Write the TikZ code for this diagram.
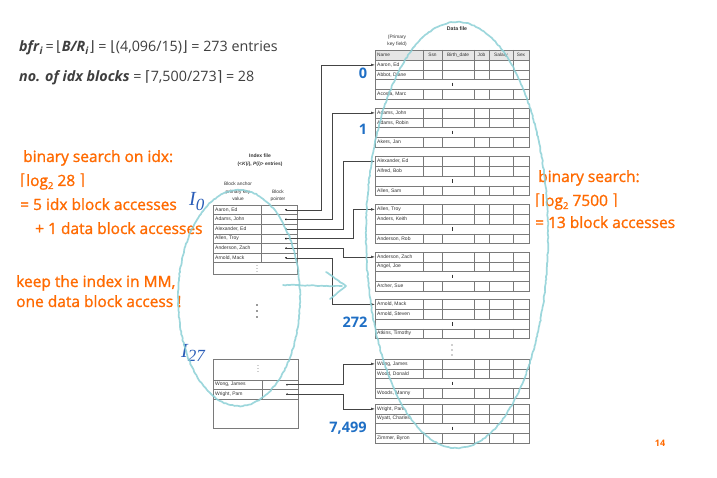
\documentclass[tikz,border=0pt]{standalone}
\usepackage{fontspec}
\setmainfont{Open Sans}
\newfontfamily\tabf{Liberation Sans}
\newfontfamily\symf{DejaVu Sans}
\newfontfamily\orf[FakeBold=1.2]{Open Sans}
\newfontfamily\serf{Liberation Serif}
\usetikzlibrary{arrows.meta,decorations.pathmorphing}
\definecolor{orng}{HTML}{FF6A00}
\definecolor{blu}{HTML}{1F6FC5}
\definecolor{iblu}{HTML}{2A5DB8}
\definecolor{txtg}{HTML}{3F3F3F}
\definecolor{cyanl}{HTML}{8DD0D6}
\definecolor{tline}{HTML}{7A7A7A}
\definecolor{hdr}{HTML}{E6E6E6}
\definecolor{txtd}{HTML}{333333}
\definecolor{cline}{HTML}{444444}
\tikzset{
  tab/.style={draw=tline, line width=0.45pt},
  dtxt/.style={font=\tabf\fontsize{5}{6}\selectfont, text=txtd, anchor=west, inner sep=0pt},
  htxt/.style={font=\tabf\fontsize{4.8}{6}\selectfont, text=txtd, inner sep=0pt},
  ptr/.style={draw=cline, line width=0.5pt, -{Latex[length=4pt,width=2.6pt]}},
  bul/.style={fill=black, circle, inner sep=0pt, minimum size=1.9pt},
  otxt/.style={font=\orf\fontsize{15.5}{18}\selectfont, text=orng, anchor=base west, inner sep=0pt},
  bnum/.style={font=\bfseries\fontsize{14.5}{17}\selectfont, text=blu, anchor=base, inner sep=0pt},
  ftxt/.style={anchor=base west, inner sep=0pt, text=txtg, font=\fontsize{14.3}{17}\selectfont},
  hand/.style={draw=cyanl, line width=1.7pt, opacity=0.85, line cap=round, line join=round,
     decorate, decoration={random steps, segment length=2.2pt, amplitude=0.45pt}},
}
\newcommand\lc{{\symf ⌈}}
\newcommand\rc{{\symf ⌉}}
\newcommand\lf{{\symf ⌊}}
\newcommand\rf{{\symf ⌋}}
\newcommand\dblock[5]{%
  \draw[tab] (375,#1) rectangle (529,#1+39);
  \foreach \yy in {9.75,19.5,29.25} \draw[tab] (375,#1+\yy) -- (529,#1+\yy);
  \foreach \xx in {423,442,474,489,513} {\draw[tab] (\xx,#1) -- (\xx,#1+19.5); \draw[tab] (\xx,#1+29.25) -- (\xx,#1+39);}
  \draw[draw=txtd, line width=0.4pt] (452,#1+22.6) -- (452,#1+26.2);
  \node[dtxt] (#5a) at (377,#1+4.9) {#2};
  \node[dtxt] (#5b) at (377,#1+14.6) {#3};
  \node[dtxt] (#5d) at (377,#1+34.1) {#4};
  \coordinate (#5t) at (375,#1+4.9);
}
\begin{document}
\begin{tikzpicture}[x=1pt,y=-1pt]
\useasboundingbox[fill=white] (0,0) rectangle (717,478);

% ---------- top formulas ----------
\node[ftxt] (f1) at (19,52)
  {\textbf{\textit{bfr}}\textsubscript{\textbf{\textit{i}}}\,=\,\lf\textbf{\textit{B/R}}\textsubscript{\textbf{\textit{i}}}\rf\ = \lf(4,096/15)\rf\ = 273 entries};
\node[ftxt] (f2) at (19,82)
  {\textbf{\textit{no. of idx blocks}} = \lc 7,500/273\rc\ = 28};

% ---------- data file ----------
\node[htxt, font=\tabf\bfseries\fontsize{5.2}{6}\selectfont] (dft) at (457,29) {Data file};
\node[htxt, align=center, font=\tabf\fontsize{4.8}{6.6}\selectfont] (pkf) at (397,40.5) {(Primary\\key field)};
\fill[hdr] (375,50) rectangle (529,60);
\draw[tab] (375,50) rectangle (529,60);
\foreach \xx in {423,442,474,489,513} \draw[tab] (\xx,50) -- (\xx,60);
\node[htxt, anchor=west] (hn) at (377,55) {Name};
\node[htxt] (hs) at (432.5,55) {Ssn};
\node[htxt] (hb) at (458,55) {Birth\_date};
\node[htxt] (hj) at (481.5,55) {Job};
\node[htxt] (hsa) at (501,55) {Salary};
\node[htxt] (hx) at (521,55) {Sex};

\dblock{60}{Aaron, Ed}{Abbot, Diane}{Acosta, Marc}{d0}
\dblock{108}{Adams, John}{Adams, Robin}{Akers, Jan}{d1}
\dblock{156.5}{Alexander, Ed}{Alfred, Bob}{Allen, Sam}{d2}
\dblock{204.5}{Allen, Troy}{Anders, Keith}{Anderson, Rob}{d3}
\dblock{252}{Anderson, Zach}{Angel, Joe}{Archer, Sue}{d4}
\dblock{299.5}{Arnold, Mack}{Arnold, Steven}{Atkins, Timothy}{d5}
\dblock{359}{Wong, James}{Wood, Donald}{Woods, Manny}{d6}
\dblock{404}{Wright, Pam}{Wyatt, Charles}{Zimmer, Byron}{d7}
\foreach \yy in {345,350,355} \fill[txtd] (452,\yy) circle (0.7);

% ---------- index file ----------
\node[htxt, font=\tabf\bfseries\fontsize{5}{6}\selectfont] (ift) at (260,156) {Index file};
\node[htxt, font=\tabf\bfseries\fontsize{4.8}{6}\selectfont] (ifs) at (260,164) {(<\textit{K}(\textit{i}), \textit{P}(\textit{i})> entries)};
\node[htxt, align=center, font=\tabf\fontsize{4.8}{7.4}\selectfont] (bak) at (238,191.5) {Block anchor\\primary key\\value};
\node[htxt, align=center, font=\tabf\fontsize{4.8}{7.4}\selectfont] (bpt) at (278,195.5) {Block\\pointer};

\draw[tab] (213,205) rectangle (297,274);
\foreach \yy in {214.6,224.2,233.8,243.4,253,262.6} \draw[tab] (213,\yy) -- (297,\yy);
\draw[tab] (261,205) -- (261,262.6);
\foreach \yy in {265.5,268.5,271.5} \fill[txtd] (257,\yy) circle (0.45);
\foreach \nm/\yy/\id in {{Aaron, Ed}/209.8/0, {Adams, John}/219.4/1, {Alexander, Ed}/229/2, {Allen, Troy}/238.6/3, {Anderson, Zach}/248.2/4, {Arnold, Mack}/257.8/5}{
  \node[dtxt] (in\id) at (215,\yy) {\nm};
  \node[bul] (b\id) at (286,\yy) {};
}
\foreach \yy in {305,311,317} \fill[txtd] (257,\yy) circle (0.8);

\draw[tab] (213,359) rectangle (298,428);
\foreach \yy in {380,389.5,399} \draw[tab] (213,\yy) -- (298,\yy);
\draw[tab] (262,380) -- (262,399);
\foreach \yy in {365.5,368.5,371.5} \fill[txtd] (258,\yy) circle (0.45);
\node[dtxt] (in6) at (215,384.7) {Wong, James};
\node[dtxt] (in7) at (215,394.2) {Wright, Pam};
\node[bul] (b6) at (287,384.7) {};
\node[bul] (b7) at (287,394.2) {};

% ---------- pointers ----------
\coordinate (c1) at (321,0);
\coordinate (c2) at (332,0);
\coordinate (c3) at (343,0);
\coordinate (c4) at (353,0);
\draw[ptr] (b0.center) -- (b0 -| c1) -- (c1 |- d0t) -- (d0t);
\draw[ptr] (b1.center) -- (b1 -| c2) -- (c2 |- d1t) -- (d1t);
\draw[ptr] (b2.center) -- (b2 -| c3) -- (c3 |- d2t) -- (d2t);
\draw[ptr] (b3.center) -- (b3 -| c4) -- (c4 |- d3t) -- (d3t);
\draw[ptr] (b4.center) -- (b4 -| c3) -- (c3 |- d4t) -- (d4t);
\draw[ptr] (b5.center) -- (b5 -| c2) -- (c2 |- d5t) -- (d5t);
\draw[ptr] (b6.center) -- (b6 -| c3) -- (c3 |- d6t) -- (d6t);
\draw[ptr] (b7.center) -- (b7 -| c3) -- (c3 |- d7t) -- (d7t);

% ---------- blue labels ----------
\node[bnum] (n0) at (363,79) {0};
\node[bnum] (n1) at (363,135) {1};
\node[bnum] (n272) at (355,327) {272};
\node[bnum] (n7499) at (348,432) {7,499};
\node[anchor=base west, inner sep=0pt, text=iblu, font=\serf\itshape\fontsize{20}{22}\selectfont] (i0) at (189,206) {I\textsubscript{\fontsize{17}{17}\selectfont 0}};
\node[anchor=base west, inner sep=0pt, text=iblu, font=\serf\itshape\fontsize{20}{22}\selectfont] (i27) at (181,357) {I\textsubscript{\fontsize{17}{17}\selectfont 27}};

% ---------- orange notes ----------
\node[otxt] (o1) at (23,162) {binary search on idx:};
\node[otxt] (o2) at (20,186) {\lc log{\fontsize{9.5}{9.5}\selectfont\raisebox{-3pt}{2}} 28 \rc};
\node[otxt] (o3) at (20,210) {= 5 idx block accesses};
\node[otxt] (o4) at (35,234) {+ 1 data block accesses};
\node[otxt] (o5) at (16,287) {keep the index in MM,};
\node[otxt] (o6) at (16,307) {one data block access !};
\node[otxt] (o7) at (538,182) {binary search:};
\node[otxt] (o8) at (535,206) {\lc log{\fontsize{9.5}{9.5}\selectfont\raisebox{-3pt}{2}} 7500 \rc};
\node[otxt] (o9) at (535,228) {= 13 block accesses};
\node[anchor=base, inner sep=0pt, text=orng, font=\bfseries\fontsize{9}{10}\selectfont] (pg) at (660,446) {14};

% ---------- hand drawn marks ----------
\draw[hand] (239,298) ellipse [x radius=61, y radius=108];
\draw[hand] (457,235) ellipse [x radius=91, y radius=213];
\draw[hand] (283,285) -- (342,286);
\draw[hand] (326,272) -- (346,286) -- (330,299);
\end{tikzpicture}
\end{document}
